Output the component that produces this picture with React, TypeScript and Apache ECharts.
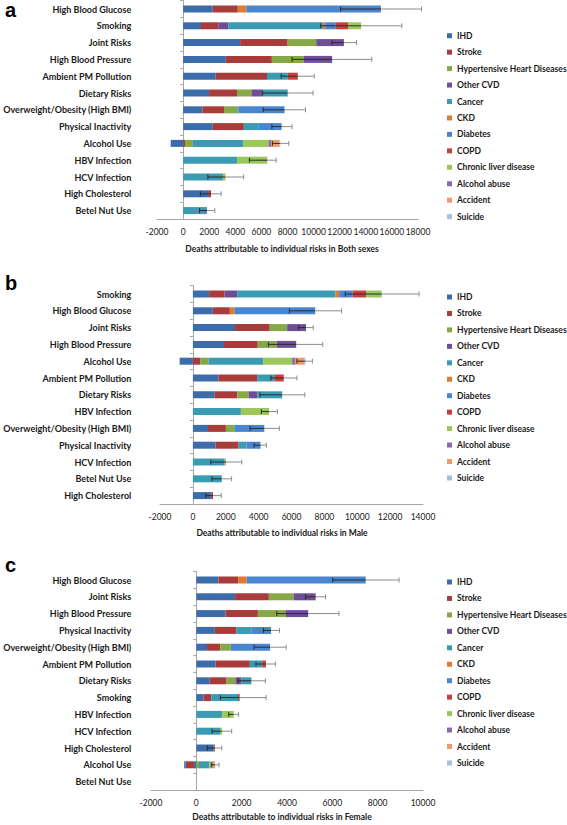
import React, { useEffect, useRef } from "react";
import * as echarts from "echarts";

const causes = [
  "IHD", "Stroke", "Hypertensive Heart Diseases", "Other CVD", "Cancer", "CKD",
  "Diabetes", "COPD", "Chronic liver disease", "Alcohol abuse", "Accident", "Suicide",
];
const causeColors = [
  "#3d6cab", "#a83c3a", "#86a846", "#6f4e95", "#3a9bb3", "#e07b30",
  "#4a86d0", "#c8403c", "#9cc85a", "#8a6aaa", "#f09a6a", "#a6bedf",
];

// ---------- Panel a: Both sexes ----------
const catsA = [
  "High Blood Glucose", "Smoking", "Joint Risks", "High Blood Pressure", "Ambient PM Pollution",
  "Dietary Risks", "Overweight/Obesity (High BMI)", "Physical Inactivity", "Alcohol Use",
  "HBV Infection", "HCV Infection", "High Cholesterol", "Betel Nut Use",
];
const aIHD = [2270, 1370, 4370, 3270, 2500, 1990, 1480, 2270, -950, 0, 0, 1920, 0];
const aStroke = [1920, 1325, 3640, 3530, 3930, 2140, 1655, 2385, 150, 0, 0, 220, 0];
const aHHD = [0, 0, 2190, 2430, 0, 1100, 1015, 0, 600, 0, 0, 0, 0];
const aOtherCVD = [0, 770, 2120, 2190, 0, 820, 0, 0, 0, 0, 0, 0, 0];
const aCancer = [0, 7240, 0, 0, 1590, 1965, 90, 1150, 3880, 4130, 3050, 0, 1830];
const aCKD = [660, 180, 0, 0, 0, 0, 0, 0, 0, 0, 0, 0, 0];
const aDiabetes = [10310, 815, 0, 0, 0, 0, 3530, 1745, 0, 0, 0, 0, 0];
const aCOPD = [0, 970, 0, 0, 770, 0, 0, 0, 0, 0, 0, 0, 0];
const aLiver = [0, 970, 0, 0, 0, 0, 0, 0, 1920, 2320, 200, 0, 0];
const aAlcAbuse = [0, 0, 0, 0, 0, 0, 0, 0, 220, 0, 0, 0, 0];
const aAccident = [0, 0, 0, 0, 0, 0, 0, 0, 615, 0, 0, 0, 0];
const aSuicide = [0, 0, 0, 0, 0, 0, 0, 0, 60, 0, 0, 0, 0];
const aErrLow = [12070, 10550, 11415, 8350, 7510, 6090, 6140, 6800, 6840, 5080, 1900, 1325, 1260];
const aErrHigh = [18270, 16760, 13290, 14460, 10050, 9960, 9380, 8350, 8100, 7130, 4640, 2915, 2430];

// ---------- Panel b: Male ----------
const catsB = [
  "Smoking", "High Blood Glucose", "Joint Risks", "High Blood Pressure", "Alcohol Use",
  "Ambient PM Pollution", "Dietary Risks", "HBV Infection", "Overweight/Obesity (High BMI)",
  "Physical Inactivity", "HCV Infection", "Betel Nut Use", "High Cholesterol",
];
const bIHD = [990, 1210, 2560, 1895, -805, 1555, 1330, 0, 920, 1380, 0, 0, 1125];
const bStroke = [940, 1040, 2115, 2050, 440, 2355, 1380, 0, 1090, 1400, 0, 0, 100];
const bHHD = [0, 0, 1060, 1160, 510, 0, 680, 0, 510, 0, 0, 0, 0];
const bOtherCVD = [770, 0, 1145, 1180, 0, 0, 545, 0, 0, 0, 0, 0, 0];
const bCancer = [5975, 0, 0, 0, 3330, 1075, 1500, 2920, 0, 480, 1930, 1760, 0];
const bCKD = [220, 275, 0, 0, 0, 0, 0, 0, 0, 0, 0, 0, 0];
const bDiabetes = [820, 4915, 0, 0, 0, 0, 0, 0, 1825, 855, 0, 0, 0];
const bCOPD = [820, 0, 0, 0, 0, 545, 0, 0, 0, 0, 0, 0, 0];
const bLiver = [955, 0, 0, 0, 1760, 0, 0, 1710, 0, 0, 85, 0, 0];
const bAlcAbuse = [0, 0, 0, 0, 170, 0, 0, 0, 0, 0, 0, 0, 0];
const bAccident = [0, 0, 0, 0, 580, 0, 0, 0, 0, 0, 0, 0, 0];
const bSuicide = [0, 0, 0, 0, 60, 0, 0, 0, 0, 0, 0, 0, 0];
const bErrLow = [9270, 5870, 6435, 4590, 6330, 4745, 4080, 4165, 3480, 3720, 1090, 1160, 785];
const bErrHigh = [13760, 9050, 7320, 7900, 7270, 6330, 6810, 5140, 5260, 4470, 2970, 2355, 1725];

// ---------- Panel c: Female ----------
const catsC = [
  "High Blood Glucose", "Joint Risks", "High Blood Pressure", "Physical Inactivity",
  "Overweight/Obesity (High BMI)", "Ambient PM Pollution", "Dietary Risks", "Smoking",
  "HBV Infection", "HCV Infection", "High Cholesterol", "Alcohol Use", "Betel Nut Use",
];
const cIHD = [970, 1710, 1285, 815, 470, 850, 590, 320, 0, 0, 765, -105, 0];
const cStroke = [875, 1490, 1430, 945, 580, 1510, 745, 340, 0, 0, 50, -355, 0];
const cHHD = [0, 1085, 1240, 0, 470, 0, 390, 0, 0, 0, 0, 118, 0];
const cOtherCVD = [0, 980, 980, 0, 0, 0, 270, 0, 0, 0, 0, 0, 0];
const cCancer = [0, 0, 0, 685, 0, 545, 435, 1180, 1145, 1050, 0, 460, 0];
const cCKD = [378, 0, 0, 0, 0, 0, 0, 0, 0, 0, 0, 0, 0];
const cDiabetes = [5250, 0, 0, 850, 1735, 0, 0, 0, 0, 0, 0, -85, 0];
const cCOPD = [0, 0, 0, 0, 0, 165, 0, 70, 0, 0, 0, 0, 0];
const cLiver = [0, 0, 0, 0, 0, 0, 0, 0, 505, 85, 0, 118, 0];
const cAlcAbuse = [0, 0, 0, 0, 0, 0, 0, 0, 0, 0, 0, 35, 0];
const cAccident = [0, 0, 0, 0, 0, 0, 0, 0, 0, 0, 0, 95, 0];
const cSuicide = [0, 0, 0, 0, 0, 0, 0, 0, 0, 0, 0, 0, 0];
const cErrLow = [6020, 4815, 3550, 2960, 2550, 2630, 1840, 1060, 1430, 695, 485, 660, 0];
const cErrHigh = [8945, 5700, 6290, 3670, 3965, 3490, 3045, 3080, 1865, 1560, 1120, 1000, 0];

const xMaxA = 18000;
const xMaxB = 14000;
const xMaxC = 10000;

const FONT = "Lato";
const TEXT = "#1a1a1a";
const AXIS = "#a6a6a6";

const panels = [
  {
    cats: catsA,
    rows: [aIHD, aStroke, aHHD, aOtherCVD, aCancer, aCKD, aDiabetes, aCOPD, aLiver, aAlcAbuse, aAccident, aSuicide],
    low: aErrLow, high: aErrHigh, max: xMaxA,
    title: "Deaths attributable to individual risks in Both sexes",
    grid: { left: 116, width: 302, top: 0.6, height: 218.4 },
    labelMargin: 25.7, legendTop: 29.7, letter: "a", letterTop: 0, titleY: 249,
  },
  {
    cats: catsB,
    rows: [bIHD, bStroke, bHHD, bOtherCVD, bCancer, bCKD, bDiabetes, bCOPD, bLiver, bAlcAbuse, bAccident, bSuicide],
    low: bErrLow, high: bErrHigh, max: xMaxB,
    title: "Deaths attributable to individual risks in Male",
    grid: { left: 110, width: 313, top: 285.6, height: 218.4 },
    labelMargin: 28.7, legendTop: 291, letter: "b", letterTop: 273, titleY: 533,
  },
  {
    cats: catsC,
    rows: [cIHD, cStroke, cHHD, cOtherCVD, cCancer, cCKD, cDiabetes, cCOPD, cLiver, cAlcAbuse, cAccident, cSuicide],
    low: cErrLow, high: cErrHigh, max: xMaxC,
    title: "Deaths attributable to individual risks in Female",
    grid: { left: 84, width: 339, top: 571.6, height: 218.4 },
    labelMargin: 19.7, legendTop: 576, letter: "c", letterTop: 555, titleY: 817,
  },
];

function buildOption() {
  const grid: any[] = [];
  const xAxis: any[] = [];
  const yAxis: any[] = [];
  const series: any[] = [];
  const legend: any[] = [];
  const graphic: any[] = [];

  panels.forEach((p, pi) => {
    grid.push({ ...p.grid, containLabel: false });
    xAxis.push({
      type: "value", gridIndex: pi, min: -2000, max: p.max, interval: 2000,
      splitLine: { show: false },
      axisLine: { show: true, onZero: false, lineStyle: { color: AXIS, width: 1 } },
      axisTick: { show: false },
      axisLabel: { fontSize: 8.5, color: TEXT, margin: 8, fontFamily: FONT, formatter: (v: number) => String(v) },
    });
    yAxis.push({
      type: "category", gridIndex: pi, data: p.cats, inverse: true,
      axisLine: { show: true, onZero: true, lineStyle: { color: AXIS, width: 1 } },
      axisTick: { show: true, length: 3, lineStyle: { color: AXIS } },
      axisLabel: { interval: 0, margin: p.labelMargin, fontFamily: FONT, fontWeight: "bold", fontSize: 9, color: TEXT },
      splitLine: { show: false },
    });
    p.rows.forEach((row, k) => {
      series.push({
        type: "bar", name: causes[k], xAxisIndex: pi, yAxisIndex: pi, stack: "s" + pi,
        data: row, barWidth: 7, itemStyle: { color: causeColors[k] },
        emphasis: { disabled: true }, silent: true,
      });
    });
    const tot = p.cats.map((_, i) => p.rows.reduce((s, r) => s + Math.max(0, r[i]), 0));
    series.push({
      type: "custom", xAxisIndex: pi, yAxisIndex: pi, silent: true, z: 10, clip: false,
      data: p.cats.map((_, i) => [p.low[i], i, tot[i], p.high[i]]),
      encode: { x: [0, 2, 3], y: 1 },
      renderItem: (params: any, api: any) => {
        const low = api.value(0);
        const idx = api.value(1);
        const t = api.value(2);
        const high = api.value(3);
        if (!high) return null;
        const pL = api.coord([low, idx]);
        const pT = api.coord([t, idx]);
        const pH = api.coord([high, idx]);
        const h = 2.5;
        const dark = "#2b2b2b";
        const grey = "#8c8c8c";
        return {
          type: "group",
          children: [
            { type: "line", shape: { x1: pL[0], y1: pL[1], x2: pT[0], y2: pT[1] }, style: { stroke: dark, lineWidth: 1 } },
            { type: "line", shape: { x1: pT[0], y1: pT[1], x2: pH[0], y2: pH[1] }, style: { stroke: grey, lineWidth: 1 } },
            { type: "line", shape: { x1: pL[0], y1: pL[1] - h, x2: pL[0], y2: pL[1] + h }, style: { stroke: dark, lineWidth: 1 } },
            { type: "line", shape: { x1: pH[0], y1: pH[1] - h, x2: pH[0], y2: pH[1] + h }, style: { stroke: grey, lineWidth: 1 } },
          ],
        };
      },
    });
    legend.push({
      orient: "vertical", left: 447, top: p.legendTop, padding: 0,
      itemWidth: 5, itemHeight: 5, itemGap: 4.45, icon: "rect",
      selectedMode: false, data: causes,
      textStyle: { fontSize: 8.5, fontWeight: "bold", fontFamily: FONT, color: TEXT, lineHeight: 12 },
    });
    graphic.push({
      type: "text", left: 5, top: p.letterTop,
      style: { text: p.letter, font: "bold 20px 'Liberation Sans', Arial", fill: "#000" },
    });
    graphic.push({
      type: "text", x: 282, y: p.titleY,
      style: { text: p.title, font: `bold 8.5px ${FONT}`, fill: TEXT, align: "center", verticalAlign: "middle" },
    });
  });

  return { animation: false, grid, xAxis, yAxis, series, legend, graphic };
}

export default function App() {
  const ref = useRef<HTMLDivElement>(null);
  useEffect(() => {
    document.body.style.margin = "0";
    if (!ref.current) return;
    const chart = echarts.init(ref.current, undefined, { renderer: "svg" });
    chart.setOption(buildOption() as any);
    return () => chart.dispose();
  }, []);
  return <div ref={ref} style={{ width: 567, height: 825, background: "#fff" }} />;
}
